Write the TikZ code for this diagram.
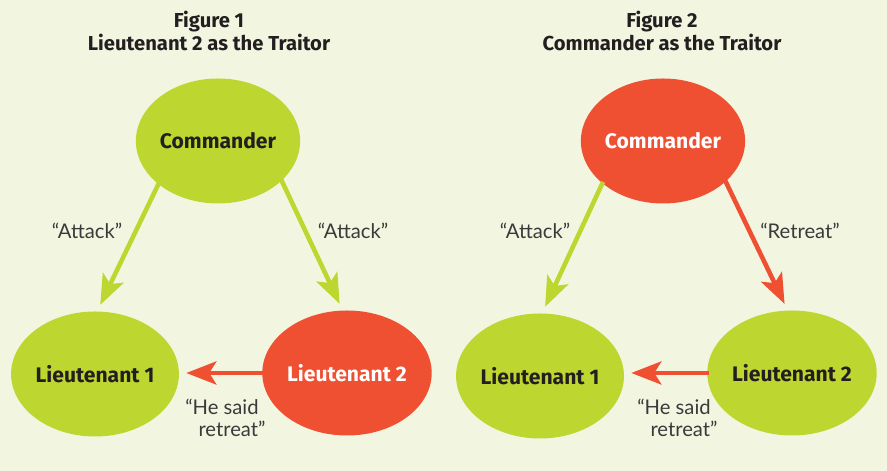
\documentclass[tikz,border=0pt]{standalone}
\usepackage{fontspec}
\setmainfont{Lato}
\newfontfamily\headfont{Fira Sans}
\usepackage{xcolor}
\usepackage{tikz}
\usetikzlibrary{positioning,arrows.meta,shapes.geometric}
\definecolor{paper}{HTML}{F2F6E1}
\definecolor{ink}{HTML}{231F20}
\definecolor{muted}{HTML}{3A3A3A}
\definecolor{cLoyal}{HTML}{BDD630}
\definecolor{cTraitor}{HTML}{EF5032}
\tikzset{
  gen/.style   = {ellipse, minimum width=3.2cm, minimum height=2.5cm, inner sep=0pt,
                  font=\headfont\bfseries\fontsize{12}{14}\selectfont},
  loyal/.style = {gen, fill=cLoyal, text=ink},
  trai/.style  = {gen, fill=cTraitor, text=white},
  ttl/.style   = {align=center, text=ink, font=\headfont\bfseries\fontsize{11.5}{13.2}\selectfont},
  lab/.style   = {align=center, text=muted, font=\fontsize{11.5}{12.8}\selectfont},
  msg/.style   = {-{Stealth[length=6mm,width=4.6mm,inset=1.4mm]}, line width=2.6pt,
                  shorten <=-1pt, shorten >=4pt},
  gmsg/.style  = {msg, draw=cLoyal, fill=cLoyal},
  rmsg/.style  = {msg, draw=cTraitor, fill=cTraitor},
}

\begin{document}
\begin{tikzpicture}
  \useasboundingbox[fill=paper] (0,0) rectangle (17.74,9.42);

  % Figure 1: the second lieutenant lies
  \node[ttl] (t1) at (4.18,8.8) {Figure 1\\ Lieutenant 2 as the Traitor};
  \node[loyal] (c1) at (4.36,6.6) {Commander};
  \node[loyal] (a1) at (1.9,1.94) {Lieutenant 1};
  \node[trai] (b1) at (6.94,1.96) {Lieutenant 2};
  \draw[gmsg] (c1.216) -- (a1.88);
  \draw[gmsg] (c1.328) -- (b1.94);
  \draw[rmsg] (b1.west) -- (a1.east |- b1.west);
  \node[lab] (ka1) at (1.74,4.8) {``Attack''};
  \node[lab] (kb1) at (7.06,4.8) {``Attack''};
  \node[lab] (hs1) at (4.44,1.06) {``He said\\ \hspace*{0.4cm}retreat''};

  % Figure 2: the commander lies
  \node[ttl] (t2) at (13.24,8.8) {Figure 2\\ Commander as the Traitor};
  \node[trai] (c2) at (13.26,6.6) {Commander};
  \node[loyal] (a2) at (10.8,1.9) {Lieutenant 1};
  \node[loyal] (b2) at (15.84,1.96) {Lieutenant 2};
  \draw[gmsg] (c2.215) -- (a2.88);
  \draw[rmsg] (c2.327) -- (b2.94);
  \draw[rmsg] (b2.west) -- (a2.east |- b2.west);
  \node[lab] (ka2) at (10.7,4.8) {``Attack''};
  \node[lab] (kb2) at (16.0,4.8) {``Retreat''};
  \node[lab] (hs2) at (13.48,1.06) {``He said\\ \hspace*{0.4cm}retreat''};
\end{tikzpicture}
\end{document}
